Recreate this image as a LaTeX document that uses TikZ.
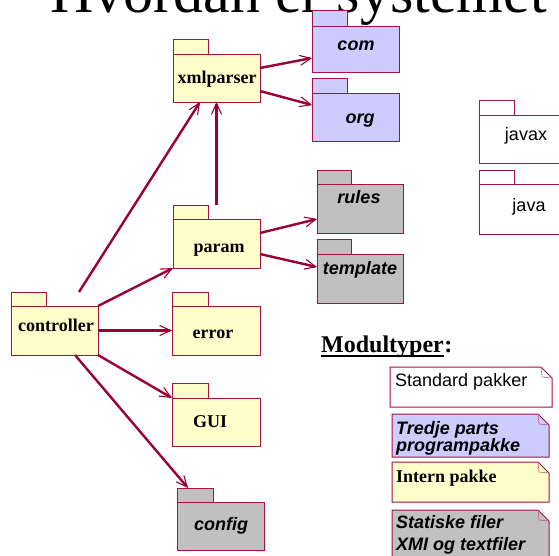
\documentclass[tikz,border=0pt]{standalone}
\usepackage{fontspec}
\setmainfont{Liberation Serif}
\setsansfont{Liberation Sans}
\usetikzlibrary{arrows.meta,calc}

\definecolor{edge}{RGB}{153,0,51}
\definecolor{frame}{RGB}{165,16,66}
\definecolor{pkgyellow}{HTML}{FFFFCC}
\definecolor{pkgblue}{HTML}{CCCCFF}
\definecolor{pkggray}{HTML}{C0C0C0}

\tikzset{
  pkgpart/.style={draw=frame, line width=1pt, inner sep=0pt, outer sep=0pt, rectangle},
  internal/.style={fill=pkgyellow},
  thirdparty/.style={fill=pkgblue},
  static/.style={fill=pkggray},
  standard/.style={fill=white},
  serifbold/.style={font=\bfseries\fontsize{18}{20}\selectfont, inner sep=0pt},
  sansbolditalic/.style={font=\sffamily\bfseries\itshape\fontsize{18}{20}\selectfont, inner sep=0pt},
  sansplain/.style={font=\sffamily\fontsize{18}{20}\selectfont, inner sep=0pt},
  dep/.style={draw=edge, line width=2.4pt,
    -{Straight Barb[length=11pt,width=10pt,line width=1.1pt]}},
  notebox/.style={inner sep=0pt, outer sep=0pt, rectangle},
  noteline/.style={draw=frame, line width=1pt},
}

% package: name, fill style, x1, y1, x2, y2 (body), tab right, tab top
\newcommand\pkgfolder[8]{%
  \node[pkgpart,#2,minimum width={(#7-#3)*1pt},minimum height={(#4-#8)*1pt}]
    (#1tab) at ({(#3+#7)/2},{(#8+#4)/2}) {};
  \node[pkgpart,#2,minimum width={(#5-#3)*1pt},minimum height={(#6-#4)*1pt}]
    (#1) at ({(#3+#5)/2},{(#4+#6)/2}) {};
}

% note with a folded corner: name, fill style
\newcommand\notefold[2]{%
  \path[noteline,#2] (#1.north west) -- ($(#1.north east)+(-11,0)$)
    -- ($(#1.north east)+(0,11)$) -- (#1.south east) -- (#1.south west) -- cycle;
  \draw[draw=frame!70, line width=0.6pt] ($(#1.north east)+(-11,0)$)
    -- ($(#1.north east)+(-10,10)$) -- ($(#1.north east)+(0,11)$);
}

\begin{document}
\begin{tikzpicture}[x=1pt,y=-1pt]
\clip (0,0) rectangle (559,555);
\fill[white] (0,0) rectangle (559,555);

% heading, cut by the top edge
\node[anchor=base west, inner sep=0pt, font=\fontsize{60}{70}\selectfont]
  (heading) at (50,12) {Hvordan er systemet};

% packages
\pkgfolder{com}{thirdparty}{312}{26}{399}{72}{347}{10}
\pkgfolder{org}{thirdparty}{312}{93}{399}{141}{347}{78}
\pkgfolder{xmlparser}{internal}{173}{54}{260}{102}{208}{39}
\pkgfolder{param}{internal}{173}{219}{260}{268}{208}{205}
\pkgfolder{rules}{static}{317}{184}{403}{233}{351}{170}
\pkgfolder{template}{static}{317}{254}{403}{303}{351}{239}
\pkgfolder{controller}{internal}{11}{306}{98}{355}{46}{292}
\pkgfolder{error}{internal}{172}{306}{260}{355}{208}{292}
\pkgfolder{GUI}{internal}{172}{398}{260}{446}{208}{383}
\pkgfolder{config}{static}{177}{502}{264}{550}{213}{488}
\pkgfolder{javax}{standard}{479}{115}{571}{163}{514}{100}
\pkgfolder{java}{standard}{479}{184}{571}{234}{514}{170}

% package names
\node[sansbolditalic, anchor=base] (com-label) at (356,50) {com};
\node[sansbolditalic, anchor=base] (org-label) at (360,123) {org};
\node[serifbold, anchor=base] (xmlparser-label) at (217,83) {xmlparser};
\node[serifbold, anchor=base] (param-label) at (219,252) {param};
\node[sansbolditalic, anchor=base] (rules-label) at (359,203) {rules};
\node[sansbolditalic, anchor=base] (template-label) at (360,274) {template};
\node[serifbold, anchor=base] (controller-label) at (56,331) {controller};
\node[serifbold, anchor=base] (error-label) at (213,338) {error};
\node[serifbold, anchor=base] (GUI-label) at (210,427) {GUI};
\node[sansbolditalic, anchor=base] (config-label) at (221,530) {config};
\node[sansplain, anchor=base] (javax-label) at (526,140) {javax};
\node[sansplain, anchor=base] (java-label) at (529,211) {java};

% dependencies
\draw[dep] ($(xmlparser.north east)+(0,14)$) -- ($(com.north west)+(0,32)$);
\draw[dep] ($(xmlparser.south east)+(0,-11)$) -- ($(org.north west)+(0,12)$);
\draw[dep] ($(param.north)+(0,-14)$) -- (xmlparser.south);
\draw[dep] ($(controller.north east)+(-19,-14)$) -- ($(xmlparser.south west)+(27,0)$);
\draw[dep] (controller.north east) -- (param.south west);
\draw[dep] (controller.east) -- (error.west);
\draw[dep] (controller.south east) -- (GUI.north west);
\draw[dep] ($(controller.south east)+(-23,0)$) -- ($(configtab.north west)+(11,0)$);
\draw[dep] ($(param.north east)+(0,14)$) -- ($(rules.south west)+(0,-14)$);
\draw[dep] ($(param.south east)+(0,-14)$) -- ($(template.north west)+(0,13)$);

% legend
\node[anchor=base west, inner sep=0pt, font=\bfseries\fontsize{24}{28}\selectfont]
  (legend-title) at (321,352) {Modultyper};
\node[anchor=base west, inner sep=0pt, font=\bfseries\fontsize{24}{28}\selectfont]
  (legend-colon) at (legend-title.base east) {:};
\draw[line width=2pt] ($(legend-title.base west)+(0,4)$) -- ($(legend-title.base east)+(0,4)$);

\node[notebox, minimum width=162pt, minimum height=40pt] (note-standard) at (471,387) {};
\notefold{note-standard}{standard}
\node[sansplain, anchor=base west] (note-standard-text) at (395,386) {Standard pakker};

\node[notebox, minimum width=157pt, minimum height=43pt] (note-third) at (470.5,435.5) {};
\notefold{note-third}{thirdparty}
\node[sansbolditalic, anchor=base west] (note-third-a) at (396,434) {Tredje parts};
\node[sansbolditalic, anchor=base west] (note-third-b) at (396,451) {programpakke};

\node[notebox, minimum width=157pt, minimum height=40pt] (note-internal) at (470.5,482) {};
\notefold{note-internal}{internal}
\node[serifbold, anchor=base west] (note-internal-text) at (396,482) {Intern pakke};

\node[notebox, minimum width=157pt, minimum height=60pt] (note-static) at (470.5,540) {};
\notefold{note-static}{static}
\node[sansbolditalic, anchor=base west] (note-static-a) at (396,528) {Statiske filer};
\node[sansbolditalic, anchor=base west] (note-static-b) at (396,550) {XMI og textfiler};
\end{tikzpicture}
\end{document}
